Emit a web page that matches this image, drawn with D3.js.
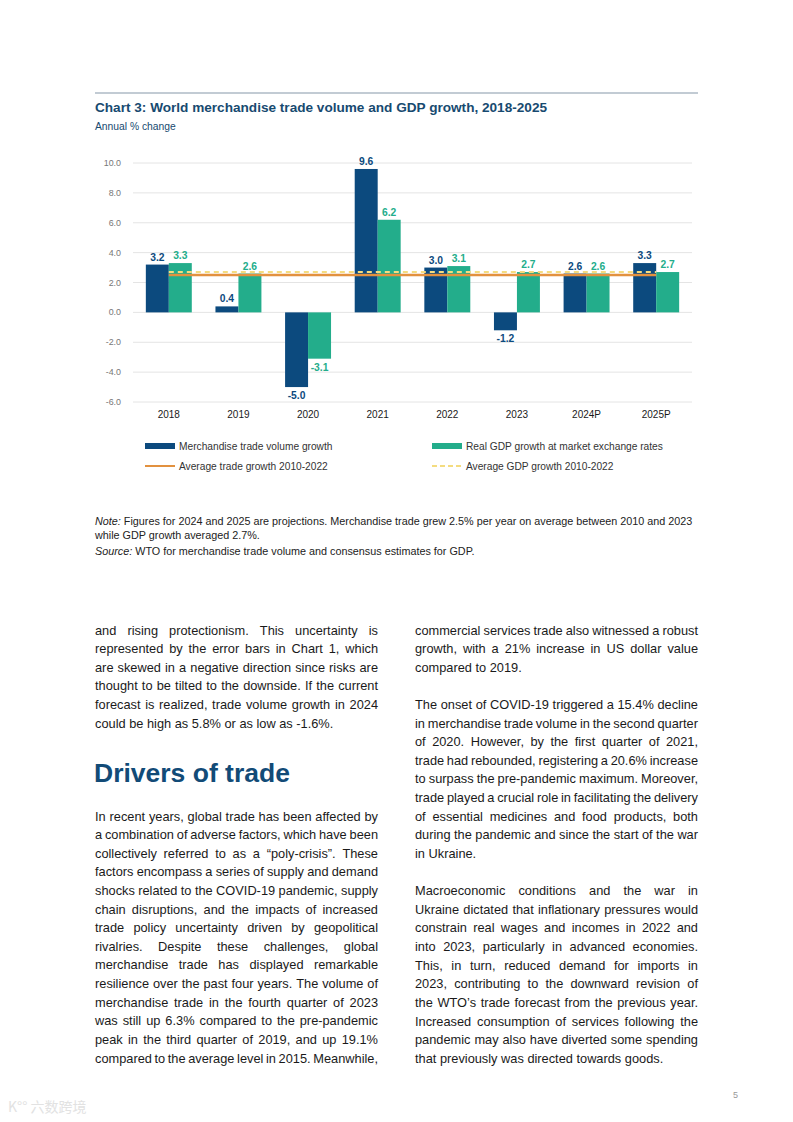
<!DOCTYPE html>
<html>
<head>
<meta charset="utf-8">
<script src="https://cdn.jsdelivr.net/npm/d3@7"></script>
<style>
  html, body { margin: 0; padding: 0; background: #fff; }
  svg { display: block; font-family: "Liberation Sans", Arial, sans-serif; }
</style>
</head>
<body>
<svg id="page" width="793" height="1122"></svg>
<script>
'use strict';

// chart data
var years = ["2018", "2019", "2020", "2021", "2022", "2023", "2024P", "2025P"];
var tradeGrowth = [3.2, 0.4, -5.0, 9.6, 3.0, -1.2, 2.6, 3.3];
var gdpGrowth = [3.3, 2.6, -3.1, 6.2, 3.1, 2.7, 2.6, 2.7];
var avgTrade = 2.5, avgGdp = 2.7;
var yTicks = [-6, -4, -2, 0, 2, 4, 6, 8, 10];
var legendLabels = ["Merchandise trade volume growth", "Real GDP growth at market exchange rates",
    "Average trade growth 2010-2022", "Average GDP growth 2010-2022"];

// body copy, one entry per printed line (true = justified)
var leftCol = [
    ["and rising protectionism. This uncertainty is", true],
    ["represented by the error bars in Chart 1, which", true],
    ["are skewed in a negative direction since risks are", true],
    ["thought to be tilted to the downside. If the current", true],
    ["forecast is realized, trade volume growth in 2024", true],
    ["could be high as 5.8% or as low as -1.6%.", false]
];
var leftCol2 = [
    ["In recent years, global trade has been affected by", true],
    ["a combination of adverse factors, which have been", true],
    ["collectively referred to as a \u201Cpoly-crisis\u201D. These", true],
    ["factors encompass a series of supply and demand", true],
    ["shocks related to the COVID-19 pandemic, supply", true],
    ["chain disruptions, and the impacts of increased", true],
    ["trade policy uncertainty driven by geopolitical", true],
    ["rivalries. Despite these challenges, global", true],
    ["merchandise trade has displayed remarkable", true],
    ["resilience over the past four years. The volume of", true],
    ["merchandise trade in the fourth quarter of 2023", true],
    ["was still up 6.3% compared to the pre-pandemic", true],
    ["peak in the third quarter of 2019, and up 19.1%", true],
    ["compared to the average level in 2015. Meanwhile,", true]
];
var rightCol = [
    ["commercial services trade also witnessed a robust", true],
    ["growth, with a 21% increase in US dollar value", true],
    ["compared to 2019.", false],
    null,
    ["The onset of COVID-19 triggered a 15.4% decline", true],
    ["in merchandise trade volume in the second quarter", true],
    ["of 2020. However, by the first quarter of 2021,", true],
    ["trade had rebounded, registering a 20.6% increase", true],
    ["to surpass the pre-pandemic maximum. Moreover,", true],
    ["trade played a crucial role in facilitating the delivery", true],
    ["of essential medicines and food products, both", true],
    ["during the pandemic and since the start of the war", true],
    ["in Ukraine.", false],
    null,
    ["Macroeconomic conditions and the war in", true],
    ["Ukraine dictated that inflationary pressures would", true],
    ["constrain real wages and incomes in 2022 and", true],
    ["into 2023, particularly in advanced economies.", true],
    ["This, in turn, reduced demand for imports in", true],
    ["2023, contributing to the downward revision of", true],
    ["the WTO\u2019s trade forecast from the previous year.", true],
    ["Increased consumption of services following the", true],
    ["pandemic may also have diverted some spending", true],
    ["that previously was directed towards goods.", false]
];

var NAVY = "#0c4a7e", TEAL = "#23ad8b", ORANGE = "#e2913f", YELLOW = "#f4dc80",
    TITLE = "#174a70";

// plain hyphen for negatives, like the print
function fmt1(v) { return v.toFixed(1); }

var svg = d3.select("#page");

// header rule + titles
svg.append("line").attr("x1", 95).attr("x2", 698).attr("y1", 93).attr("y2", 93)
    .style("stroke", "#8597a8").style("stroke-width", 1);
svg.append("text").attr("x", 95).attr("y", 112)
    .style("font-size", "13.6px").style("font-weight", "bold").style("fill", TITLE)
    .text("Chart 3: World merchandise trade volume and GDP growth, 2018-2025");
svg.append("text").attr("x", 95).attr("y", 130)
    .style("font-size", "10.3px").style("fill", TITLE)
    .text("Annual % change");

// scales
var x = d3.scaleBand().domain(years).range([134, 691]).paddingInner(0.34).paddingOuter(0.17);
var y = d3.scaleLinear().domain([-6, 10]).range([402, 163]);
var bw = x.bandwidth() / 2;

var plot = svg.append("g");

// grid
plot.selectAll("line.grid").data(yTicks).enter().append("line")
    .attr("class", "grid")
    .attr("x1", 133).attr("x2", 692)
    .attr("y1", function(d) { return y(d); }).attr("y2", function(d) { return y(d); })
    .style("stroke", "#e4e4e4").style("stroke-width", 1);

plot.selectAll("text.ytick").data(yTicks).enter().append("text")
    .attr("class", "ytick")
    .attr("x", 121).attr("y", function(d) { return y(d) + 3; })
    .style("text-anchor", "end").style("font-size", "8.9px").style("fill", "#777")
    .text(fmt1);

plot.selectAll("text.xtick").data(years).enter().append("text")
    .attr("class", "xtick")
    .attr("x", function(d) { return x(d) + bw; }).attr("y", 418)
    .style("text-anchor", "middle").style("font-size", "10px").style("fill", "#1a1a1a")
    .text(function(d) { return d; });

function barSeries(values, offset, color) {
    var rows = years.map(function(yr, i) { return { year: yr, v: values[i] }; });
    plot.selectAll(null).data(rows).enter().append("rect")
        .attr("x", function(d) { return x(d.year) + offset; })
        .attr("width", bw)
        .attr("y", function(d) { return y(Math.max(0, d.v)); })
        .attr("height", function(d) { return Math.abs(y(d.v) - y(0)); })
        .style("fill", color);
    plot.selectAll(null).data(rows).enter().append("text")
        .attr("x", function(d) { return x(d.year) + offset + bw / 2; })
        .attr("y", function(d) { return d.v >= 0 ? y(d.v) - 4 : y(d.v) + 12; })
        .style("text-anchor", "middle").style("font-size", "10.3px")
        .style("font-weight", "bold").style("fill", color)
        .text(function(d) { return fmt1(d.v); });
}
barSeries(tradeGrowth, 0, NAVY);
barSeries(gdpGrowth, bw, TEAL);

// average lines, from centre of first group to centre of last
var avgLine = d3.line()
    .x(function(d) { return x(d.year) + bw; })
    .y(function(d) { return y(d.v); });
plot.append("path")
    .datum(years.map(function(yr) { return { year: yr, v: avgTrade }; }))
    .attr("d", avgLine)
    .style("fill", "none").style("stroke", ORANGE).style("stroke-width", 2.5);
plot.append("path")
    .datum(years.map(function(yr) { return { year: yr, v: avgGdp }; }))
    .attr("d", avgLine)
    .style("fill", "none").style("stroke", YELLOW).style("stroke-width", 2)
    .style("stroke-dasharray", "5 4");

// legend
var legend = svg.append("g").style("font-size", "10.2px").style("fill", "#333");
var legPos = [[145, 446], [432, 446], [145, 466], [432, 466]];
legend.append("rect").attr("x", 145).attr("y", 443).attr("width", 30).attr("height", 6).style("fill", NAVY);
legend.append("rect").attr("x", 432).attr("y", 443).attr("width", 30).attr("height", 6).style("fill", TEAL);
legend.append("line").attr("x1", 145).attr("x2", 175).attr("y1", 466).attr("y2", 466)
    .style("stroke", ORANGE).style("stroke-width", 2);
legend.append("line").attr("x1", 432).attr("x2", 462).attr("y1", 466).attr("y2", 466)
    .style("stroke", YELLOW).style("stroke-width", 2).style("stroke-dasharray", "5 3");
legend.selectAll("text").data(legendLabels).enter().append("text")
    .attr("x", function(d, i) { return legPos[i][0] + 34; })
    .attr("y", function(d, i) { return legPos[i][1] + 3.5; })
    .text(function(d) { return d; });

// note + source
var notes = svg.append("g").style("font-size", "10.8px").style("fill", "#222");
var n1 = notes.append("text").attr("x", 95).attr("y", 525);
n1.append("tspan").style("font-style", "italic").text("Note:");
n1.append("tspan").text(" Figures for 2024 and 2025 are projections. Merchandise trade grew 2.5% per year on average between 2010 and 2023");
notes.append("text").attr("x", 95).attr("y", 539).text("while GDP growth averaged 2.7%.");
var n2 = notes.append("text").attr("x", 95).attr("y", 555);
n2.append("tspan").style("font-style", "italic").text("Source:");
n2.append("tspan").text(" WTO for merchandise trade volume and consensus estimates for GDP.");

// body text, justified by spreading words
var LH = 18.62, COLW = 283;
var body = svg.append("g").style("font-size", "12.8px").style("fill", "#1a1a1a");

function writeLines(lines, x0, yFirst) {
    lines.forEach(function(ln, i) {
        if (!ln) return;
        var yy = yFirst + i * LH;
        var words = ln[0].split(" ");
        if (!ln[1]) {
            body.append("text").attr("x", x0).attr("y", yy).text(ln[0]);
            return;
        }
        var nodes = words.map(function(w) {
            return body.append("text").attr("y", yy).text(w);
        });
        var widths = nodes.map(function(n) { return n.node().getComputedTextLength(); });
        var total = d3.sum(widths);
        var gap = (COLW - total) / (words.length - 1);
        var scale = 1;
        if (gap < 2.4) { gap = 2.4; scale = (COLW - gap * (words.length - 1)) / total; }
        var cx = x0;
        nodes.forEach(function(n, k) {
            n.attr("x", cx);
            if (scale < 1) n.attr("textLength", widths[k] * scale).attr("lengthAdjust", "spacingAndGlyphs");
            cx += widths[k] * scale + gap;
        });
    });
}
writeLines(leftCol, 95, 634.5);
writeLines(leftCol2, 95, 820.5);
writeLines(rightCol, 415, 634.5);

svg.append("text").attr("x", 94).attr("y", 782)
    .style("font-size", "26.5px").style("font-weight", "bold").style("fill", "#124b77")
    .text("Drivers of trade");

// page number + faint watermark
svg.append("text").attr("x", 733).attr("y", 1098)
    .style("font-size", "9px").style("fill", "#999").text("5");
svg.append("text").attr("x", 8).attr("y", 1112)
    .style("font-size", "14px").style("fill", "#e2e2e2")
    .style("font-family", "'Noto Sans CJK SC', sans-serif")
    .text("K\u00B0\u00B0 \u516D\u6570\u8DE8\u5883");
</script>
</body>
</html>
